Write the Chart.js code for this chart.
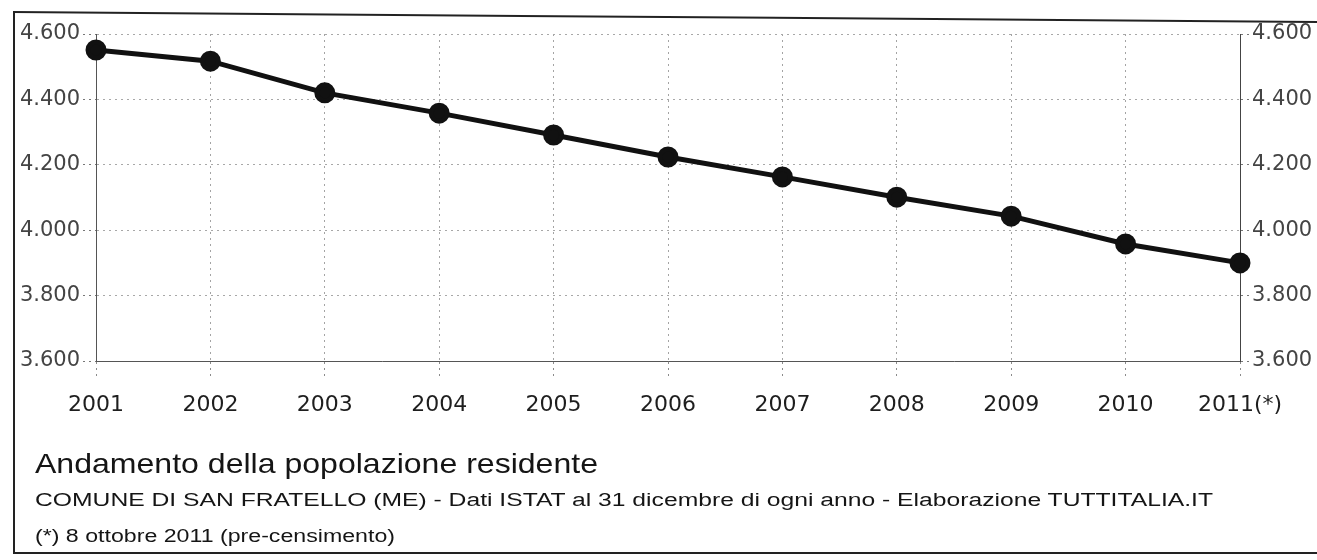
<!DOCTYPE html>
<html>
<head>
<meta charset="utf-8">
<script src="https://cdn.jsdelivr.net/npm/chart.js@4.4.0/dist/chart.umd.min.js"></script>
<style>
  html, body { margin: 0; padding: 0; background: #fff; }
  #wrap { position: relative; width: 1317px; height: 560px; overflow: hidden; }
  #myChart { position: absolute; left: 0; top: 0; }
  .frame { position: absolute; left: 13px; top: 11px; width: 1302px; height: 541px;
    border-left: 2px solid #222; border-bottom: 2px solid #222; border-right: 2px solid #222; }
  .topline { position: absolute; left: 13px; top: 11px; width: 1306px; height: 0;
    border-top: 2px solid #222; transform-origin: 0 0; transform: rotate(0.44deg); }
  .cap { position: absolute; left: 35px; white-space: nowrap; color: #151515;
    font-family: "Liberation Sans", Arial, sans-serif; transform-origin: 0 50%; }
</style>
</head>
<body>
<div id="wrap">
  <canvas id="myChart" width="1317" height="560"></canvas>
  <div class="frame"></div>
  <div class="topline"></div>
  <div class="cap" id="t1" data-w="563" style="top:448px;font-size:28px;">Andamento della popolazione residente</div>
  <div class="cap" id="t2" data-w="1178" style="top:490px;font-size:18px;">COMUNE DI SAN FRATELLO (ME) - Dati ISTAT al 31 dicembre di ogni anno - Elaborazione TUTTITALIA.IT</div>
  <div class="cap" id="t3" data-w="360" style="top:526px;font-size:18px;">(*) 8 ottobre 2011 (pre-censimento)</div>
</div>
<script>
const ctx = document.getElementById("myChart");

const years = ["2001", "2002", "2003", "2004", "2005", "2006", "2007", "2008", "2009", "2010", "2011(*)"];
const residents = [4551, 4517, 4420, 4358, 4291, 4224, 4163, 4101, 4043, 3958, 3900];
const yMin = 3600;
const yMax = 4600;
const yStep = 200;

// 4600 -> "4.600"
const fmt = (v) => {
  const s = String(Math.round(v));
  return s.length > 3 ? s.slice(0, s.length - 3) + "." + s.slice(-3) : s;
};

const gridDots = [2, 4];

new Chart(ctx, {
  type: "line",
  data: {
    labels: years,
    datasets: [
      {
        data: residents,
        yAxisID: "y",
        borderColor: "#111",
        backgroundColor: "#111",
        borderWidth: 5,
        pointRadius: 8,
        pointHoverRadius: 8,
        tension: 0,
        clip: false,
      },
    ],
  },
  options: {
    responsive: false,
    animation: false,
    layout: { padding: { top: 34, left: 0, right: 0, bottom: 0 } },
    plugins: { legend: { display: false }, tooltip: { enabled: false } },
    scales: {
      x: {
        offset: false,
        grid: { color: "#a4a4a4", lineWidth: 1, tickLength: 19, tickColor: "#8a8a8a", tickBorderDash: gridDots },
        border: { display: true, color: "#555", width: 1, dash: gridDots },
        ticks: { color: "#1e1e1e", padding: 12, maxRotation: 0, autoSkip: false,
          font: { family: "DejaVu Sans", size: 22 } },
        afterFit: (scale) => { scale.height = 560 - 361; },
      },
      y: {
        position: "left",
        min: yMin,
        max: yMax,
        grid: { color: "#a8a8a8", lineWidth: 1, tickLength: 13, tickColor: "#777", tickBorderDash: gridDots },
        border: { display: true, color: "#555", width: 1, dash: gridDots },
        ticks: { stepSize: yStep, color: "#444", padding: 3, callback: fmt,
          font: { family: "DejaVu Sans", size: 21 } },
        afterFit: (scale) => { scale.width = 96; },
      },
      y2: {
        position: "right",
        min: yMin,
        max: yMax,
        grid: { drawOnChartArea: false, tickLength: 10, tickColor: "#777", tickBorderDash: gridDots },
        border: { display: true, color: "#444", width: 1 },
        ticks: { stepSize: yStep, color: "#444", padding: 2, callback: fmt,
          font: { family: "DejaVu Sans", size: 21 } },
        afterFit: (scale) => { scale.width = 1317 - 1240; },
      },
    },
  },
});

// stretch caption lines to the widths seen in the scan
document.querySelectorAll(".cap").forEach((el) => {
  const w = el.getBoundingClientRect().width;
  el.style.transform = "scaleX(" + (el.dataset.w / w) + ")";
});
</script>
</body>
</html>
